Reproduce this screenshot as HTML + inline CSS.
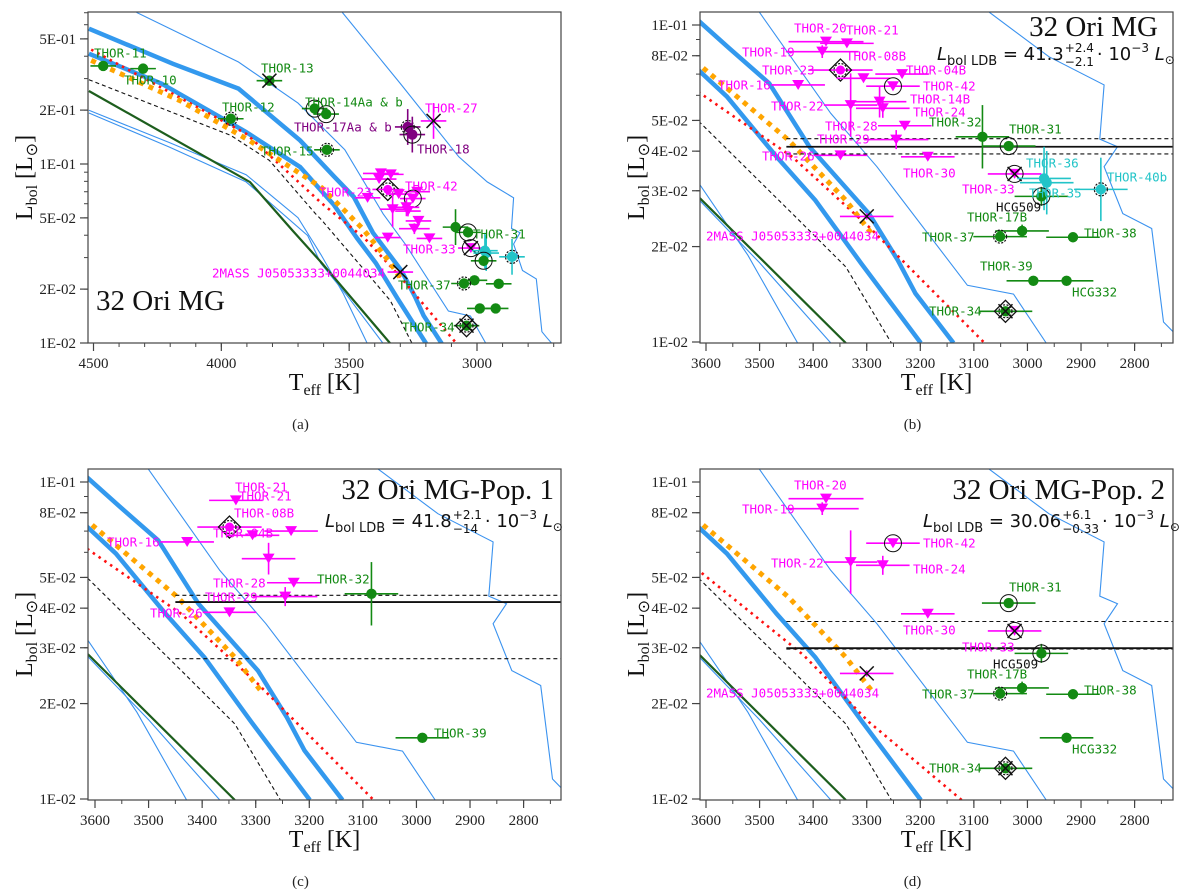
<!DOCTYPE html>
<html><head><meta charset="utf-8">
<style>
html,body{margin:0;padding:0;background:#fff;}
svg{display:block;}
.lab{font-family:"DejaVu Sans Mono","Liberation Mono",monospace;font-size:12.5px;dominant-baseline:central;}
.tick{font-family:"Liberation Serif",serif;font-size:15px;fill:#222;}
.axt{font-family:"Liberation Serif",serif;font-size:24px;fill:#111;}
.ttl{font-family:"Liberation Serif",serif;font-size:29px;fill:#111;}
.frm{font-family:"DejaVu Sans",sans-serif;fill:#111;}
</style></head>
<body>
<svg id="fig" width="1200" height="892" viewBox="0 0 1200 892" xmlns="http://www.w3.org/2000/svg"></svg>
<script>
// ---------- star data ----------
const starNames=["THOR-20","THOR-21","THOR-19","THOR-23","THOR-04B","THOR-08B","THOR-42","THOR-16","THOR-14B","THOR-22","THOR-24","THOR-28","THOR-29","THOR-26","THOR-30","THOR-32","THOR-31","THOR-33","THOR-36","THOR-35","HCG509","THOR-40b","2MASS","THOR-17B","THOR-37","THOR-38","THOR-39","HCG332","THOR-34","THOR-11","THOR-10","THOR-13","THOR-14Aa","THOR-14b","THOR-12","THOR-17Aa","THOR-18","THOR-27","THOR-15"];
const starTeff=[3376,3337,3383,3349,3234,3306,3251,3428,3276,3330,3270,3229,3245,3349,3186,3084,3035,3024,2969,2964,2974,2863,3300,3010,3051,2915,2989,2927,3041,4462,4306,3812,3635,3590,3963,3271,3253,3170,3587];
const starLbol=[0.0886,0.0875,0.0824,0.0721,0.0700,0.0679,0.0641,0.0647,0.0573,0.0559,0.0546,0.0481,0.0435,0.0388,0.0384,0.0444,0.0415,0.0339,0.0328,0.0318,0.0288,0.0303,0.0249,0.0224,0.0215,0.0214,0.0156,0.0156,0.0125,0.353,0.341,0.292,0.204,0.190,0.179,0.161,0.146,0.174,0.120];
const starTerr=[70,50,68,60,50,50,50,50,50,50,50,50,60,50,50,50,50,50,50,50,50,50,50,50,50,50,50,50,50,50,50,50,50,50,50,50,50,50,50];
const starLerr=[0.01,0.01,0.02,0.01,0.01,0.01,0.01,0.01,0.05,0.10,0.03,0.01,0.03,0.01,0.01,0.10,0.01,0.01,0.10,0.10,0.03,0.10,0.01,0.02,0.01,0.01,0.01,0.01,0.01,0.01,0.01,0.01,0.02,0.02,0.01,0.10,0.10,0.10,0.01];
const starKind=["t","t","t","m","t","t","t","t","t","t","t","t","t","t","t","c","c","t","s","s","c","s","x","c","c","c","c","c","c","c","c","c","c","c","c","p","p","x","c"];
const starOver=["","","","Dd","","","o","","","","","","","","","","o","xo","","","o","d","x","","d","","","","Dxd","","","x","o","o","d","d","o","x","d"];
const popC=["THOR-21","THOR-23","THOR-08B","THOR-04B","THOR-16","THOR-14B","THOR-28","THOR-29","THOR-26","THOR-32","THOR-39"];
const popD=["THOR-20","THOR-19","THOR-42","THOR-22","THOR-24","THOR-30","THOR-31","THOR-33","HCG509","THOR-17B","THOR-37","THOR-38","HCG332","THOR-34","2MASS"];
// ---------- model curves [Teff, log10 Lbol] ----------
const thickA=[[4518,-0.244],[4189,-0.44],[3933,-0.579],[3692,-0.868],[3557,-1.073],[3482,-1.184],[3407,-1.384],[3296,-1.595],[3242,-1.742],[3209,-1.847],[3138,-2.003]];
const thickB=[[4518,-0.384],[4234,-0.551],[3903,-0.821],[3692,-1.017],[3611,-1.147],[3561,-1.226],[3468,-1.416],[3396,-1.553],[3310,-1.753],[3199,-2.003]];
const orangeC=[[4509,-0.421],[4159,-0.648],[3888,-0.871],[3608,-1.132],[3446,-1.363],[3339,-1.553],[3290,-1.66]];
const redC=[[4509,-0.361],[3903,-0.831],[3610,-1.216],[3439,-1.416],[3296,-1.637],[3080,-2.003]];
const redD=[[3608,-1.287],[3418,-1.546],[3296,-1.757],[3123,-2.003]];
const dashC=[[4518,-0.529],[3963,-0.84],[3812,-0.98],[3632,-1.277],[3611,-1.308],[3439,-1.595],[3339,-1.763],[3254,-2.003]];
const greenC=[[4518,-0.592],[3888,-1.101],[3722,-1.371],[3611,-1.547],[3339,-2.003]];
const thin1=[[4332,-0.153],[3933,-0.43],[3700,-0.66],[3517,-0.92],[3367,-1.279],[3281,-1.447],[3112,-1.821],[3026,-1.849],[2965,-2.003]];
const thin2=[[3527,-0.153],[3300,-0.55],[3071,-0.96],[2960,-1.1],[2857,-1.189],[2865,-1.36],[2832,-1.384],[2857,-1.447],[2822,-1.595],[2768,-1.642],[2746,-1.937],[2728,-1.968],[2707,-2.003]];
const thin3=[[4518,-0.70],[4204,-0.88],[3903,-1.06],[3700,-1.30],[3611,-1.505],[3522,-1.726],[3429,-2.003]];
const thin4=[[4518,-0.715],[4204,-0.905],[3903,-1.10],[3662,-1.40],[3611,-1.555],[3500,-1.75],[3367,-2.003]];
// LDB lines [log solid, log dashed1, log dashed2], start Teff
const ldbB=[0.0413,0.0438,0.0392];
const ldbC=[0.0418,0.0439,0.0277];
const ldbD=[0.0299,0.0363,0.0297];
const ldbStart=3450;
// tick values
const yTicksA=[0.01,0.02,0.05,0.1,0.2,0.5];
const yTicksB=[0.01,0.02,0.03,0.04,0.05,0.08,0.1];
const xTicksA=[4500,4000,3500,3000];
const xTicksB=[3600,3500,3400,3300,3200,3100,3000,2900,2800];

const NS="http://www.w3.org/2000/svg";
const svg=document.getElementById('fig');
function mk(tag,attrs,parent){const e=document.createElementNS(NS,tag);for(const k in attrs)e.setAttribute(k,attrs[k]);(parent||svg).appendChild(e);return e;}
const COL={t:"#ff00ff",m:"#ff00ff",c:"#138a13",s:"#22c4c8",p:"#800080",x:"#ff00ff"};
function fmtE(v){const e=Math.floor(Math.log10(v)+1e-9);const m=Math.round(v/Math.pow(10,e));return m+"E"+(e<0?"-":"+")+String(Math.abs(e)).padStart(2,"0");}

function panel(cfg){
  const g=mk('g',{});
  
  
  const sx=(cfg.x2px-cfg.x1px)/(cfg.x2-cfg.x1);
  const X=t=>cfg.x1px+(t-cfg.x1)*sx;
  const sy=(cfg.y1px-cfg.y2px);
  const Y=l=>cfg.y2px+(-1-Math.log10(l))*sy; // -1 at y2px, -2 at y1px
  const YL=lg=>cfg.y2px+(-1-lg)*sy;
  const cid='clip-'+cfg.id;
  const cp=mk('clipPath',{id:cid},g);mk('rect',{x:cfg.L,y:cfg.T,width:cfg.R-cfg.L,height:cfg.B-cfg.T},cp);
  const pg=mk('g',{'clip-path':'url(#'+cid+')'},g);
  
  
  function curve(arr,style,nm){const d=arr.map((p,i)=>(i?'L':'M')+X(p[0]).toFixed(1)+','+YL(p[1]).toFixed(1)).join('');const p=mk('path',Object.assign({d:d,fill:'none'},style),pg);
    
    }
  const blue="#3a92ef";
  [thin1,thin2,thin3,thin4].forEach((c,i)=>curve(c,{stroke:blue,'stroke-width':1.1},'thin-isochrone-'+(i+1)));
  curve(greenC,{stroke:"#1d5e1d",'stroke-width':2.2},'green-isochrone');
  curve(dashC,{stroke:"#111",'stroke-width':1.1,'stroke-dasharray':'4 3'},'dashed-isochrone');
  if(cfg.id!=='d') curve(thickA,{stroke:"#3399ee",'stroke-width':4.5},'thick-isochrone-a');
  curve(thickB,{stroke:"#3399ee",'stroke-width':4.5},'thick-isochrone-b');
  curve(cfg.id==='d'?redD:redC,{stroke:"#ff1010",'stroke-width':2.6,'stroke-dasharray':'2.5 4.5'},'red-dotted-isochrone');
  curve(orangeC,{stroke:"#ffa500",'stroke-width':5,'stroke-dasharray':'5 5.5'},'orange-diamond-isochrone');
  if(cfg.ldb){
    const xs=X(ldbStart);
    cfg.ldb.forEach((v,i)=>{const ln=mk('line',{x1:xs,x2:cfg.R,y1:Y(v),y2:Y(v),stroke:"#111",'stroke-width':i?1.1:1.8,'stroke-dasharray':i?'4 3':'none'},pg);
      
      });
  }
  // stars
  starNames.forEach((n,i)=>{
    if(cfg.subset&&cfg.subset.indexOf(n)<0)return;
    const x=X(starTeff[i]),y=Y(starLbol[i]);
    const k=starKind[i],c=COL[k];
    const sg=mk('g',{},pg);
    
    
    const ex=starTerr[i]*sx*-1;
    mk('line',{x1:x-ex,x2:x+ex,y1:y,y2:y,stroke:c,'stroke-width':1.6},sg);
    const ly1=YL(Math.log10(starLbol[i])+starLerr[i]),ly2=YL(Math.log10(starLbol[i])-starLerr[i]);
    mk('line',{x1:x,x2:x,y1:ly1,y2:ly2,stroke:c,'stroke-width':1.6},sg);
    if(k==='t'){mk('path',{d:`M${x-6},${y-5}L${x+6},${y-5}L${x},${y+5}Z`,fill:c},sg);}
    else if(k==='c'||k==='s'||k==='p'||k==='m'){mk('circle',{cx:x,cy:y,r:k==='m'?4.5:5.2,fill:c},sg);}
    const o=starOver[i];
    if(o.indexOf('o')>=0)mk('circle',{cx:x,cy:y,r:8.5,fill:'none',stroke:'#111','stroke-width':1},sg);
    if(o.indexOf('d')>=0)mk('circle',{cx:x,cy:y,r:6.5,fill:'none',stroke:'#111','stroke-width':1.2,'stroke-dasharray':'2 1.5'},sg);
    if(o.indexOf('D')>=0)mk('path',{d:`M${x},${y-11}L${x+11},${y}L${x},${y+11}L${x-11},${y}Z`,fill:'none',stroke:'#111','stroke-width':1.3},sg);
    if(o.indexOf('x')>=0)mk('path',{d:`M${x-7},${y-7}L${x+7},${y+7}M${x-7},${y+7}L${x+7},${y-7}`,stroke:'#111','stroke-width':1.5},sg);
  });
  // labels
  cfg.labels.forEach(l=>{const t=mk('text',{x:l[1],y:l[2],class:'lab',fill:l[3],'font-size':l[4]||12.5},g);t.textContent=l[0];
    
    });
  // frame
  const fr=mk('rect',{x:cfg.L,y:cfg.T,width:cfg.R-cfg.L,height:cfg.B-cfg.T,fill:'none',stroke:'#444','stroke-width':1.2},g);
  
  
  // y ticks
  for(let e=-3;e<=0;e++)for(let m=1;m<10;m++){const v=m*Math.pow(10,e);const y=Y(v);if(y<cfg.T-0.5||y>cfg.B+0.5)continue;
    mk('line',{x1:cfg.L-4,x2:cfg.L,y1:y,y2:y,stroke:'#444','stroke-width':1},g);}
  cfg.yt.forEach(v=>{const y=Y(v);mk('line',{x1:cfg.L-8,x2:cfg.L,y1:y,y2:y,stroke:'#444','stroke-width':1.2},g);
    const t=mk('text',{x:cfg.L-12,y:y+5,class:'tick','text-anchor':'end'},g);t.textContent=fmtE(v);
    
    });
  // x ticks
  for(let t=2500;t<=4600;t+=cfg.minor){const x=X(t);if(x<cfg.L-0.5||x>cfg.R+0.5)continue;mk('line',{x1:x,x2:x,y1:cfg.B,y2:cfg.B+4,stroke:'#444','stroke-width':1},g);}
  cfg.xt.forEach(v=>{const x=X(v);mk('line',{x1:x,x2:x,y1:cfg.B,y2:cfg.B+8,stroke:'#444','stroke-width':1.2},g);
    const t=mk('text',{x:x,y:cfg.B+25,class:'tick','text-anchor':'middle'},g);t.textContent=v;
    
    });
  // axis titles
  const cx=(cfg.L+cfg.R)/2;
  const xt=mk('text',{x:cx,y:cfg.B+47,class:'axt','text-anchor':'middle'},g);
  xt.innerHTML='T<tspan font-size="16" dy="5">eff</tspan><tspan dy="-5"> [K]</tspan>';
  
  
  const cy=(cfg.T+cfg.B)/2;
  const yt=mk('text',{x:0,y:0,class:'axt','text-anchor':'middle',transform:`translate(${cfg.L-56},${cy}) rotate(-90)`},g);
  yt.innerHTML='L<tspan font-size="16" dy="5">bol</tspan><tspan dy="-5"> [L</tspan><tspan font-size="16" dy="5">⊙</tspan><tspan dy="-5">]</tspan>';
  
  
  const cap=mk('text',{x:cx-24,y:cfg.B+86,class:'tick','font-size':16,'text-anchor':'middle'},g);cap.textContent=cfg.cap;
  
  
  if(cfg.title){const t=mk('text',{x:cfg.title[1],y:cfg.title[2],class:'ttl','text-anchor':cfg.title[3]},g);t.textContent=cfg.title[0];
    
    }
  if(cfg.frm){const f=cfg.frm;const t=mk('text',{x:f.x,y:f.y,class:'frm','font-size':18},g);
    t.innerHTML=`<tspan font-style="italic">L</tspan><tspan font-size="13" dy="5">bol LDB</tspan><tspan dy="-5"> = ${f.v}</tspan>`;
    
    
    const bb=t.getComputedTextLength();
    const su=mk('text',{x:f.x+bb+1,y:f.y-8,class:'frm','font-size':12},g);su.textContent=f.p;
    const sb=mk('text',{x:f.x+bb+1,y:f.y+6,class:'frm','font-size':12},g);sb.textContent=f.m;
    const w=Math.max(su.getComputedTextLength(),sb.getComputedTextLength());
    const r=mk('text',{x:f.x+bb+w+4,y:f.y,class:'frm','font-size':18},g);
    r.innerHTML=`· 10<tspan font-size="12" dy="-8">−3</tspan><tspan dy="8"> </tspan><tspan font-style="italic">L</tspan><tspan font-size="12" dy="4">⊙</tspan>`;
  }
}
const M="#ff00ff",G="#138a13",P="#800080",C="#22c4c8",K="#111";
panel({id:'a',name:'panel-a',L:88,R:561,T:12,B:343,x1:4500,x1px:93.5,x2:3000,x2px:477,y1px:343,y2px:164,yt:yTicksA,xt:xTicksA,minor:100,cap:'(a)',
  title:['32 Ori MG',96,310,'start'],
  labels:[['THOR-11',94,53,G],['THOR-10',124,80,G],['THOR-13',261,68,G],['THOR-14Aa & b',305,102,G],['THOR-12',222,107,G],['THOR-17Aa & b',294,127,P],['THOR-27',425,108,M],['THOR-18',417,149,P],['THOR-15',261,151,G],['THOR-23',319,192,M],['THOR-42',405,186,M],['THOR-31',473,234,G],['THOR-33',403,249,M],['2MASS J05053333+0044034',212,273,M],['THOR-37',398,285,G],['THOR-34',402,327,G]]});
panel({id:'b',name:'panel-b',L:700,R:1173,T:12,B:343,x1:3600,x1px:706,x2:2800,x2px:1134.6,y1px:342,y2px:25,yt:yTicksB,xt:xTicksB,minor:50,cap:'(b)',ldb:ldbB,
  title:['32 Ori MG',1158,36,'end'],frm:{x:937,y:60,v:'41.3',p:'+2.4',m:'−2.1'},
  labels:[['THOR-20',794,28,M],['THOR-21',846,30,M],['THOR-19',742,52,M],['THOR-08B',846,56,M],['THOR-23',762,70,M],['THOR-04B',906,70,M],['THOR-16',718,85,M],['THOR-42',923,86,M],['THOR-14B',910,99,M],['THOR-22',771,106,M],['THOR-24',913,112,M],['THOR-32',929,122,G],['THOR-28',825,126,M],['THOR-31',1009,129,G],['THOR-29',817,139,M],['THOR-26',762,156,M],['THOR-36',1026,163,C],['THOR-30',903,173,M],['THOR-40b',1107,177,C],['THOR-33',962,189,M],['THOR-35',1029,193,C],['HCG509',996,207,K,11],['THOR-17B',967,217,G],['2MASS J05053333+0044034',706,236,M],['THOR-37',922,237,G],['THOR-38',1084,233,G],['THOR-39',980,266,G],['HCG332',1072,292,G,11],['THOR-34',929,311,G]]});
panel({id:'c',name:'panel-c',subset:popC,L:88,R:561,T:469,B:800,x1:3600,x1px:95,x2:2800,x2px:523.6,y1px:799,y2px:482,yt:yTicksB,xt:xTicksB,minor:50,cap:'(c)',ldb:ldbC,
  title:['32 Ori MG-Pop. 1',554,499,'end'],frm:{x:325,y:527,v:'41.8',p:'+2.1',m:'−14'},
  labels:[['THOR-21',235,487,M],['THOR-21',239,496,M],['THOR-08B',234,513,M],['THOR-04B',213,533,M],['THOR-16',107,542,M],['THOR-28',213,583,M],['THOR-32',317,579,G],['THOR-29',205,597,M],['THOR-26',150,613,M],['THOR-39',434,733,G]]});
panel({id:'d',name:'panel-d',subset:popD,L:700,R:1173,T:469,B:800,x1:3600,x1px:706,x2:2800,x2px:1134.6,y1px:799,y2px:482,yt:yTicksB,xt:xTicksB,minor:50,cap:'(d)',ldb:ldbD,
  title:['32 Ori MG-Pop. 2',1165,499,'end'],frm:{x:923,y:527,v:'30.06',p:'+6.1',m:'−0.33'},
  labels:[['THOR-20',794,485,M],['THOR-19',742,509,M],['THOR-42',923,543,M],['THOR-22',771,563,M],['THOR-24',913,569,M],['THOR-31',1009,587,G],['THOR-30',903,630,M],['THOR-33',962,647,M],['HCG509',993,664,K,11],['THOR-17B',967,674,G],['THOR-37',922,694,G],['THOR-38',1084,690,G],['2MASS J05053333+0044034',706,693,M],['HCG332',1072,749,G,11],['THOR-34',929,768,G]]});
</script>
</body></html>
